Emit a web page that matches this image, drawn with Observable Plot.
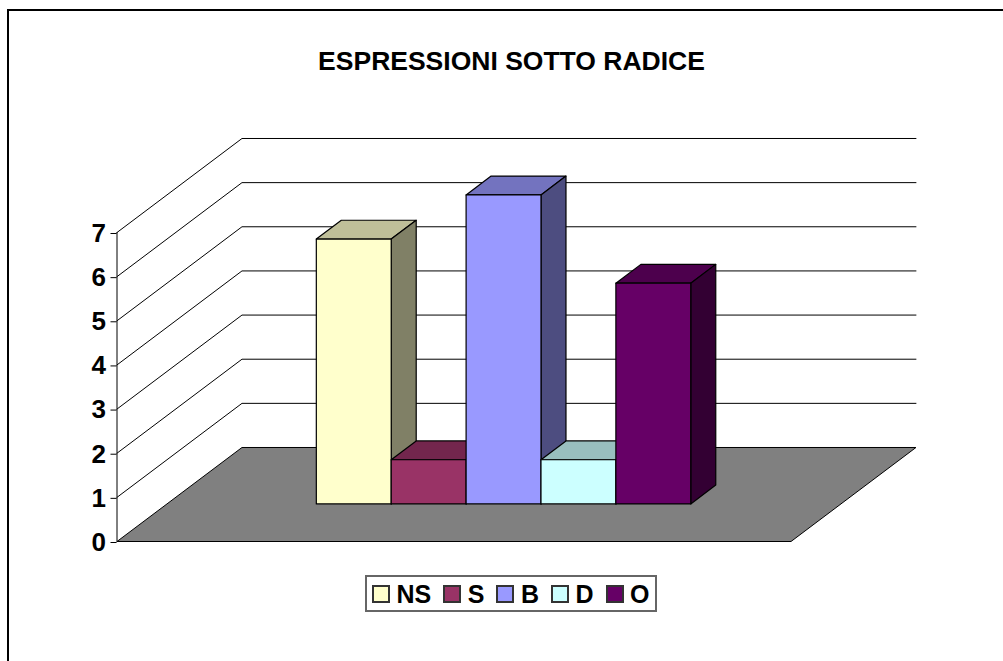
<!DOCTYPE html>
<html>
<head>
<meta charset="utf-8">
<script src="https://cdn.jsdelivr.net/npm/d3@7"></script>
<script src="https://cdn.jsdelivr.net/npm/@observablehq/plot@0.6"></script>
<style>
  html, body { margin: 0; padding: 0; background: #fff; overflow: hidden; width: 1003px; height: 661px; }
  body { position: relative; font-family: "Liberation Sans", Arial, sans-serif; font-weight: bold; color: #000; }
  #frame { position: absolute; left: 7px; top: 9px; width: 1100px; height: 800px; border: 2px solid #000; }
  #title { position: relative; height: 100px; box-sizing: border-box; padding-top: 46px; padding-left: 20px; text-align: center; font-size: 26.5px; line-height: 30px; }
  #chart svg { display: block; }
  #legend { position: relative; margin: 15px 0 0 365px; width: 292px; height: 37px; box-sizing: border-box; border: 2px solid #666; display: flex; align-items: center; padding-left: 5px; font-size: 25px; }
  .sw { width: 18px; height: 18px; box-sizing: border-box; border: 2px solid #333; margin-right: 6.5px; flex: none; }
  .lb { margin-right: 12px; line-height: 30px; }
</style>
</head>
<body>
<div id="frame"></div>
<div id="title"></div>
<div id="chart"></div>
<div id="legend"></div>
<script>
const chartTitle = "ESPRESSIONI SOTTO RADICE";
const categories = ["NS", "S", "B", "D", "O"];
const values = [6, 1, 7, 1, 5];
const colors = ["#FFFFCC", "#993366", "#9999FF", "#CCFFFF", "#660066"];
const yTicks = [0, 1, 2, 3, 4, 5, 6, 7];
const floorColor = "#808080";

// Oblique projection of (category position, value, depth 0..1) onto the x/y scales.
const floorWidth = 9;
const depthX = 125 / 74.9;
const depthY = 94 / 44.14;
const px = (c, d) => c + d * depthX;
const py = (v, d) => v + d * depthY;
const pt = (id, c, v, d, fill) => ({id, x: px(c, d), y: py(v, d), fill});
const shade = (col, k) => { const c = d3.rgb(col); return d3.rgb(c.r * k, c.g * k, c.b * k).formatHex(); };

const gap = (floorWidth - categories.length) / 2 - 0.006;
const nearD = 0.4, farD = 0.6;

// Wall grid lines
const grid = yTicks.slice(1).flatMap(v => [
  pt("g" + v, 0, v, 0),
  pt("g" + v, 0, v, 1),
  pt("g" + v, floorWidth, v, 1)
]);

// Floor
const floor = [
  pt("floor", 0, 0, 0, floorColor),
  pt("floor", 0, 0, 1, floorColor),
  pt("floor", floorWidth, 0, 1, floorColor),
  pt("floor", floorWidth, 0, 0, floorColor),
  pt("floor", 0, 0, 0, floorColor)
];

// Bars: top, side, front faces
const faces = categories.flatMap((cat, i) => {
  const c0 = gap + i, c1 = c0 + 1, v = values[i], col = colors[i];
  const poly = (name, fill, corners) => {
    const id = cat + name;
    return [...corners, corners[0]].map(([c, val, d]) => pt(id, c, val, d, fill));
  };
  return [
    ...poly("top", shade(col, 0.75), [[c0, v, nearD], [c0, v, farD], [c1, v, farD], [c1, v, nearD]]),
    ...poly("side", shade(col, 0.5), [[c1, 0, nearD], [c1, v, nearD], [c1, v, farD], [c1, 0, farD]]),
    ...poly("front", col, [[c0, 0, nearD], [c0, v, nearD], [c1, v, nearD], [c1, 0, nearD]])
  ];
});

const plot = Plot.plot({
  width: 1003,
  height: 460,
  marginLeft: 116.5,
  marginRight: 212.5,
  marginTop: 132,
  marginBottom: 19,
  x: {domain: [0, floorWidth], axis: null},
  y: {domain: [0, 7], label: null},
  style: {background: "transparent", overflow: "visible"},
  marks: [
    Plot.line(grid, {x: "x", y: "y", z: "id", stroke: "#000", strokeWidth: 1}),
    Plot.line(floor, {x: "x", y: "y", z: "id", fill: "fill", stroke: "#000", strokeWidth: 1}),
    Plot.ruleX([0], {y1: 0, y2: 7, stroke: "#000", strokeWidth: 1}),
    Plot.axisY({
      ticks: yTicks,
      tickSize: 6,
      tickPadding: 5,
      label: null,
      stroke: "#000",
      fontSize: 26,
      fontWeight: "bold",
      fontFamily: "Liberation Sans",
      tickFormat: d3.format("d"),
      fill: "#000",
      dy: 1,
      opacity: 1
    }),
    Plot.line(faces, {x: "x", y: "y", z: "id", fill: "fill", stroke: "#000", strokeWidth: 1.2})
  ]
});
document.getElementById("chart").append(plot);
document.getElementById("title").textContent = chartTitle;

const legend = document.getElementById("legend");
categories.forEach((cat, i) => {
  const s = document.createElement("span");
  s.className = "sw";
  s.style.background = colors[i];
  const t = document.createElement("span");
  t.className = "lb";
  t.textContent = cat;
  legend.append(s, t);
});
</script>
</body>
</html>
